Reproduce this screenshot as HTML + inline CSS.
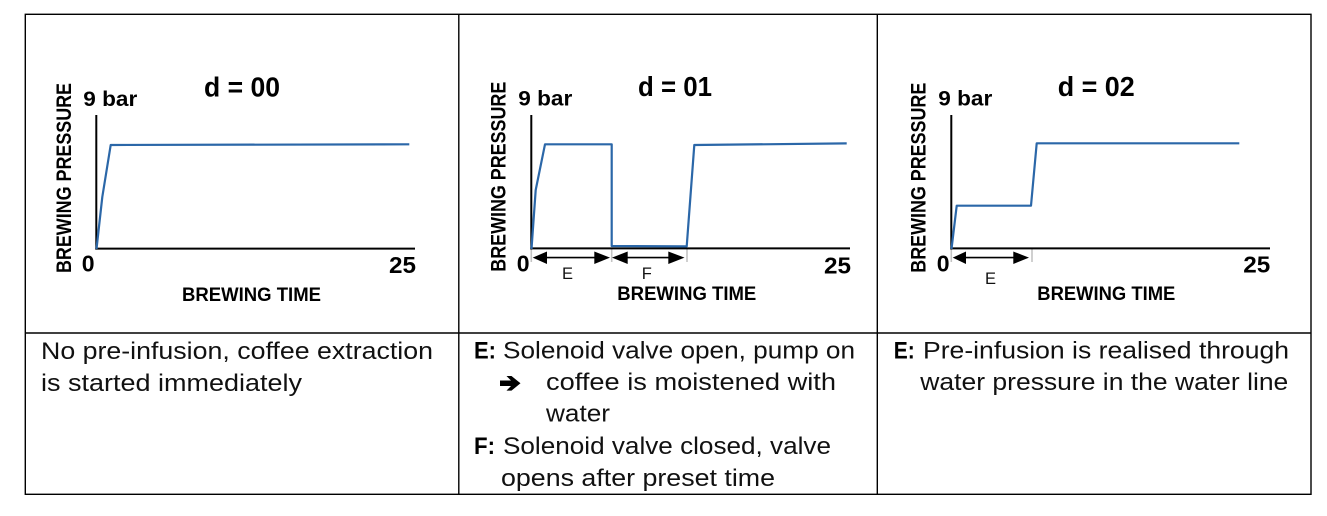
<!DOCTYPE html>
<html>
<head>
<meta charset="utf-8">
<style>
  html,body{margin:0;padding:0;background:#fff;}
  svg{display:block;}
  .b{font-family:"Liberation Sans",Arial,sans-serif;font-weight:bold;fill:#000;}
  .r{font-family:"Liberation Sans",Arial,sans-serif;font-weight:normal;fill:#111;}
</style>
</head>
<body>
<svg width="1327" height="516" viewBox="0 0 1327 516" xmlns="http://www.w3.org/2000/svg">
  <rect width="1327" height="516" fill="#fff"/>
  <!-- table borders -->
  <g stroke="#000" stroke-width="1.4" fill="none">
    <rect x="25.3" y="14.3" width="1285.7" height="480"/>
    <line x1="25.3" y1="333" x2="1311" y2="333"/>
    <line x1="458.8" y1="14.3" x2="458.8" y2="494.3"/>
    <line x1="877.3" y1="14.3" x2="877.3" y2="494.3"/>
  </g>

  <!-- ===== Chart 1 ===== -->
  <g>
    <line x1="96.3" y1="115" x2="96.3" y2="249.5" stroke="#000" stroke-width="2"/>
    <line x1="95.3" y1="248.6" x2="415" y2="248.6" stroke="#000" stroke-width="2"/>
    <polyline points="96.5,249 102.3,197 110.7,145 409.3,144.3" fill="none" stroke="#2b67a8" stroke-width="2.2" stroke-linejoin="round"/>
    <text class="b" x="83.3" y="106" font-size="21" textLength="54" lengthAdjust="spacingAndGlyphs">9 bar</text>
    <text class="b" x="204" y="96.7" font-size="28" textLength="76" lengthAdjust="spacingAndGlyphs">d = 00</text>
    <text class="b" x="81.7" y="271.7" font-size="23">0</text>
    <text class="b" x="389" y="273" font-size="23" textLength="27" lengthAdjust="spacingAndGlyphs">25</text>
    <text class="b" x="182" y="301" font-size="19.5" textLength="139" lengthAdjust="spacingAndGlyphs">BREWING TIME</text>
    <text class="b" transform="translate(71,273) rotate(-90)" font-size="21" textLength="190" lengthAdjust="spacingAndGlyphs">BREWING PRESSURE</text>
  </g>

  <!-- ===== Chart 2 ===== -->
  <g>
    <g stroke="#c4c4c4" stroke-width="1.6">
      <line x1="531.3" y1="249" x2="531.3" y2="262"/>
      <line x1="611.7" y1="249" x2="611.7" y2="262"/>
      <line x1="687" y1="249" x2="687" y2="262"/>
    </g>
    <line x1="531.3" y1="115" x2="531.3" y2="249.5" stroke="#000" stroke-width="2"/>
    <line x1="530.3" y1="248.4" x2="850" y2="248.4" stroke="#000" stroke-width="2"/>
    <polyline points="531.5,249 535.7,190 545,144.3 611.7,144.3 611.7,246 686.7,246.4 694.3,145 846.7,143.4" fill="none" stroke="#2b67a8" stroke-width="2.2" stroke-linejoin="round"/>
    <!-- E arrow -->
    <line x1="545" y1="257.6" x2="596" y2="257.6" stroke="#000" stroke-width="1.6"/>
    <polygon points="532.7,257.6 547,251.5 547,264" fill="#000"/>
    <polygon points="610,257.6 594.3,251.5 594.3,264" fill="#000"/>
    <!-- F arrow -->
    <line x1="626" y1="257.6" x2="670" y2="257.6" stroke="#000" stroke-width="1.6"/>
    <polygon points="612,257.6 627.7,251.5 627.7,264" fill="#000"/>
    <polygon points="684.5,257.6 668.3,251.5 668.3,264" fill="#000"/>
    <text class="r" x="562" y="279" font-size="16.5" fill="#000">E</text>
    <text class="r" x="641.7" y="279" font-size="16.5" fill="#000">F</text>
    <text class="b" x="518.3" y="105.7" font-size="21" textLength="54" lengthAdjust="spacingAndGlyphs">9 bar</text>
    <text class="b" x="638" y="96" font-size="28" textLength="74" lengthAdjust="spacingAndGlyphs">d = 01</text>
    <text class="b" x="516.7" y="271.7" font-size="23">0</text>
    <text class="b" x="824" y="273.3" font-size="23" textLength="27" lengthAdjust="spacingAndGlyphs">25</text>
    <text class="b" x="617.3" y="300" font-size="19.5" textLength="139" lengthAdjust="spacingAndGlyphs">BREWING TIME</text>
    <text class="b" transform="translate(505.5,271.7) rotate(-90)" font-size="21" textLength="190" lengthAdjust="spacingAndGlyphs">BREWING PRESSURE</text>
  </g>

  <!-- ===== Chart 3 ===== -->
  <g>
    <g stroke="#c4c4c4" stroke-width="1.6">
      <line x1="951.3" y1="249" x2="951.3" y2="262"/>
      <line x1="1032" y1="249" x2="1032" y2="262"/>
    </g>
    <line x1="951.3" y1="115" x2="951.3" y2="249.5" stroke="#000" stroke-width="2"/>
    <line x1="950.3" y1="248.4" x2="1270" y2="248.4" stroke="#000" stroke-width="2"/>
    <polyline points="951.5,249 956.7,205.7 1031,205.7 1036.7,143.3 1239.3,143.3" fill="none" stroke="#2b67a8" stroke-width="2.2" stroke-linejoin="round"/>
    <line x1="965" y1="257.6" x2="1015" y2="257.6" stroke="#000" stroke-width="1.6"/>
    <polygon points="952.7,257.6 966,251.5 966,264" fill="#000"/>
    <polygon points="1029,257.6 1013.3,251.5 1013.3,264" fill="#000"/>
    <text class="r" x="985" y="284" font-size="16.5" fill="#000">E</text>
    <text class="b" x="938.3" y="105.7" font-size="21" textLength="54" lengthAdjust="spacingAndGlyphs">9 bar</text>
    <text class="b" x="1057.7" y="96" font-size="28" textLength="77" lengthAdjust="spacingAndGlyphs">d = 02</text>
    <text class="b" x="936.7" y="271.7" font-size="23">0</text>
    <text class="b" x="1243.3" y="272.7" font-size="23" textLength="27" lengthAdjust="spacingAndGlyphs">25</text>
    <text class="b" x="1037.3" y="300" font-size="19.5" textLength="138" lengthAdjust="spacingAndGlyphs">BREWING TIME</text>
    <text class="b" transform="translate(925.5,272.7) rotate(-90)" font-size="21" textLength="190" lengthAdjust="spacingAndGlyphs">BREWING PRESSURE</text>
  </g>

  <!-- ===== Descriptions ===== -->
  <text class="r" x="41" y="359" font-size="24" textLength="392" lengthAdjust="spacingAndGlyphs">No pre-infusion, coffee extraction</text>
  <text class="r" x="41" y="391" font-size="24" textLength="261" lengthAdjust="spacingAndGlyphs">is started immediately</text>

  <text class="b" x="474" y="358.3" font-size="24" textLength="22" lengthAdjust="spacingAndGlyphs">E:</text>
  <text class="r" x="503" y="358.3" font-size="24" textLength="352" lengthAdjust="spacingAndGlyphs">Solenoid valve open, pump on</text>
  <polygon points="500,380.5 511,380.5 506.5,376 511.5,376 520.5,383.3 511.5,390.6 506.5,390.6 511,386 500,386" fill="#000"/>
  <text class="r" x="546" y="390" font-size="24" textLength="290" lengthAdjust="spacingAndGlyphs">coffee is moistened with</text>
  <text class="r" x="546" y="421.7" font-size="24" textLength="64" lengthAdjust="spacingAndGlyphs">water</text>
  <text class="b" x="474" y="454" font-size="24" textLength="21" lengthAdjust="spacingAndGlyphs">F:</text>
  <text class="r" x="503" y="454" font-size="24" textLength="328" lengthAdjust="spacingAndGlyphs">Solenoid valve closed, valve</text>
  <text class="r" x="501" y="486" font-size="24" textLength="274" lengthAdjust="spacingAndGlyphs">opens after preset time</text>

  <text class="b" x="893.7" y="358.3" font-size="24" textLength="21" lengthAdjust="spacingAndGlyphs">E:</text>
  <text class="r" x="923" y="358.3" font-size="24" textLength="366" lengthAdjust="spacingAndGlyphs">Pre-infusion is realised through</text>
  <text class="r" x="920.3" y="390" font-size="24" textLength="368" lengthAdjust="spacingAndGlyphs">water pressure in the water line</text>
</svg>
</body>
</html>
